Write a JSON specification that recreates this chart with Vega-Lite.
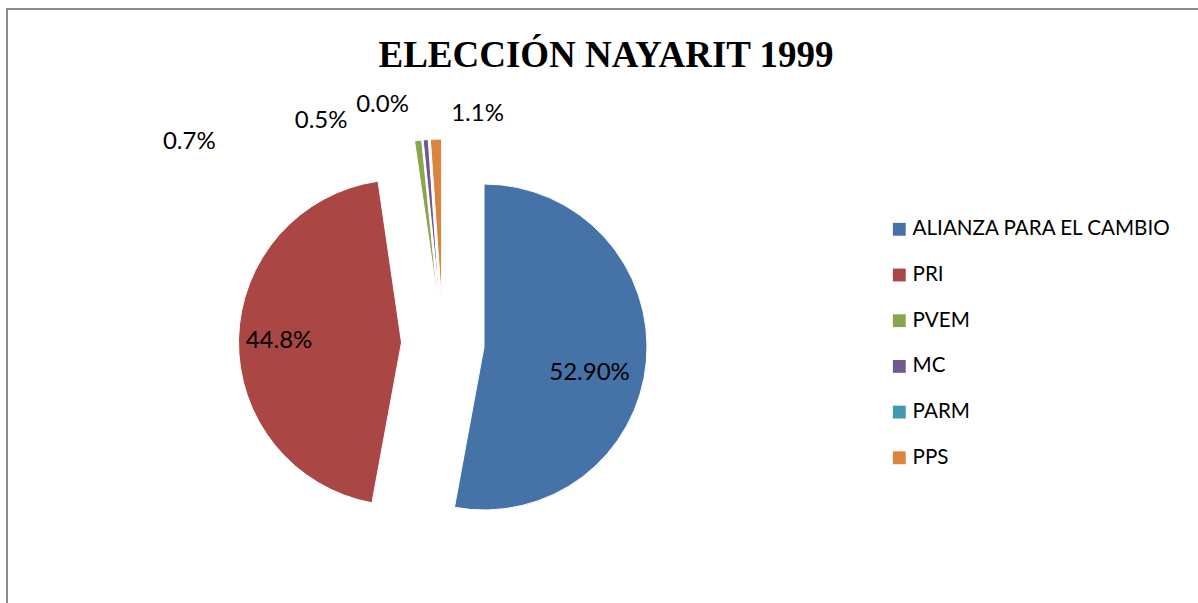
{
  "$schema": "https://vega.github.io/schema/vega-lite/v6.json",
  "width": 1198,
  "height": 603,
  "autosize": {"type": "none"},
  "padding": {"left": 7, "top": 9, "right": 0, "bottom": 0},
  "background": "white",
  "view": {"stroke": "#8c8c8c", "strokeWidth": 2, "fill": "white"},
  "title": {
    "text": "ELECCIÓN NAYARIT 1999",
    "font": "Liberation Serif",
    "fontSize": 37,
    "fontWeight": "bold",
    "color": "#000000",
    "anchor": "middle",
    "frame": "group",
    "baseline": "alphabetic",
    "offset": -95
  },
  "config": {
    "legend": {
      "orient": "none",
      "legendX": 882,
      "legendY": 210,
      "padding": 0,
      "symbolType": "square",
      "symbolSize": 165,
      "symbolStrokeWidth": 0,
      "symbolOpacity": 1,
      "labelFont": "Lato",
      "labelFontSize": 20.6,
      "labelColor": "#000000",
      "labelOffset": 3,
      "labelLimit": 0,
      "rowPadding": 24.7
    }
  },
  "data": {
    "values": [
      {"idx": 1, "party": "ALIANZA PARA EL CAMBIO", "pct": 52.9, "label": "52.90%"},
      {"idx": 2, "party": "PRI", "pct": 44.8, "label": "44.8%"},
      {"idx": 3, "party": "PVEM", "pct": 0.7, "label": "0.7%"},
      {"idx": 4, "party": "MC", "pct": 0.5, "label": "0.5%"},
      {"idx": 5, "party": "PARM", "pct": 0.0, "label": "0.0%"},
      {"idx": 6, "party": "PPS", "pct": 1.1, "label": "1.1%"}
    ]
  },
  "encoding": {
    "theta": {"field": "pct", "type": "quantitative", "stack": true},
    "order": {"field": "idx", "type": "quantitative", "sort": "ascending"}
  },
  "layer": [
    {
      "mark": {"type": "arc", "outerRadius": 163, "xOffset": -122, "yOffset": 36.5, "stroke": "white", "strokeWidth": 1},
      "encoding": {
        "color": {
          "field": "party", "type": "nominal", "title": null,
          "scale": {
            "domain": ["ALIANZA PARA EL CAMBIO", "PRI", "PVEM", "MC", "PARM", "PPS"],
            "range": ["#4572A7", "#AA4643", "#89A54E", "#71588F", "#4198AF", "#DB843D"]
          }
        },
        "opacity": {"condition": {"test": "datum.party === 'ALIANZA PARA EL CAMBIO'", "value": 1}, "value": 0}
      }
    },
    {
      "mark": {"type": "arc", "outerRadius": 163, "xOffset": -204.5, "yOffset": 32, "stroke": "white", "strokeWidth": 1},
      "encoding": {
        "color": {"field": "party", "type": "nominal", "title": null},
        "opacity": {"condition": {"test": "datum.party === 'PRI'", "value": 1}, "value": 0}
      }
    },
    {
      "mark": {"type": "arc", "outerRadius": 163, "xOffset": -168, "yOffset": -8.2, "stroke": "white", "strokeWidth": 1},
      "encoding": {
        "color": {"field": "party", "type": "nominal", "title": null},
        "opacity": {"condition": {"test": "datum.party === 'PVEM'", "value": 1}, "value": 0}
      }
    },
    {
      "mark": {"type": "arc", "outerRadius": 163, "xOffset": -166.5, "yOffset": -8.35, "stroke": "white", "strokeWidth": 1},
      "encoding": {
        "color": {"field": "party", "type": "nominal", "title": null},
        "opacity": {"condition": {"test": "datum.party === 'MC'", "value": 1}, "value": 0}
      }
    },
    {
      "mark": {"type": "arc", "outerRadius": 163, "xOffset": -165.85, "yOffset": -8.4, "stroke": "white", "strokeWidth": 1},
      "encoding": {
        "color": {"field": "party", "type": "nominal", "title": null},
        "opacity": {"condition": {"test": "datum.party === 'PARM'", "value": 1}, "value": 0}
      }
    },
    {
      "mark": {"type": "arc", "outerRadius": 163, "xOffset": -164.4, "yOffset": -8.5, "stroke": "white", "strokeWidth": 1},
      "encoding": {
        "color": {"field": "party", "type": "nominal", "title": null},
        "opacity": {"condition": {"test": "datum.party === 'PPS'", "value": 1}, "value": 0}
      }
    },
    {
      "mark": {"type": "text", "radius": 106, "xOffset": -122, "yOffset": 36.5, "dy": 16, "font": "Lato", "fontSize": 24, "color": "#000000"},
      "encoding": {
        "text": {"field": "label", "type": "nominal"},
        "opacity": {"condition": {"test": "datum.party === 'ALIANZA PARA EL CAMBIO'", "value": 1}, "value": 0}
      }
    },
    {
      "mark": {"type": "text", "radius": 122.5, "xOffset": -204.5, "yOffset": 32, "dy": 1, "font": "Lato", "fontSize": 24, "color": "#000000"},
      "encoding": {
        "text": {"field": "label", "type": "nominal"},
        "opacity": {"condition": {"test": "datum.party === 'PRI'", "value": 1}, "value": 0}
      }
    },
    {
      "mark": {"type": "text", "radius": 161.5, "xOffset": -168, "yOffset": -8.2, "dx": -229, "font": "Lato", "fontSize": 24, "color": "#000000"},
      "encoding": {
        "text": {"field": "label", "type": "nominal"},
        "opacity": {"condition": {"test": "datum.party === 'PVEM'", "value": 1}, "value": 0}
      }
    },
    {
      "mark": {"type": "text", "radius": 181.8, "xOffset": -166.5, "yOffset": -8.35, "dx": -103, "font": "Lato", "fontSize": 24, "color": "#000000"},
      "encoding": {
        "text": {"field": "label", "type": "nominal"},
        "opacity": {"condition": {"test": "datum.party === 'MC'", "value": 1}, "value": 0}
      }
    },
    {
      "mark": {"type": "text", "radius": 197.6, "xOffset": -165.85, "yOffset": -8.4, "dx": -44, "font": "Lato", "fontSize": 24, "color": "#000000"},
      "encoding": {
        "text": {"field": "label", "type": "nominal"},
        "opacity": {"condition": {"test": "datum.party === 'PARM'", "value": 1}, "value": 0}
      }
    },
    {
      "mark": {"type": "text", "radius": 188.1, "xOffset": -164.4, "yOffset": -8.5, "dx": 42.4, "font": "Lato", "fontSize": 24, "color": "#000000"},
      "encoding": {
        "text": {"field": "label", "type": "nominal"},
        "opacity": {"condition": {"test": "datum.party === 'PPS'", "value": 1}, "value": 0}
      }
    }
  ]
}
